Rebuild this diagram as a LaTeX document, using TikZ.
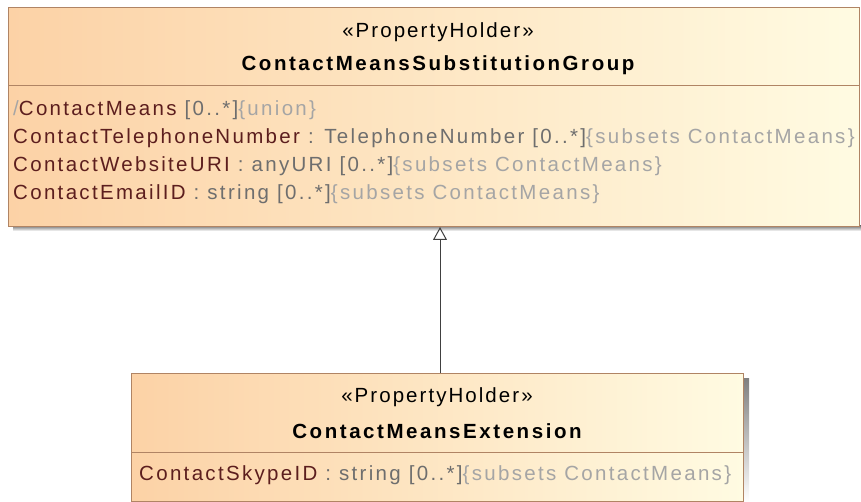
\documentclass[tikz,border=0pt]{standalone}
\usepackage{fontspec}
\setmainfont{Liberation Sans}
\newfontfamily\umlfont[LetterSpace=10]{Liberation Sans}
\newfontfamily\umlafont[LetterSpace=11.3]{Liberation Sans}
\newfontfamily\umlbfont[LetterSpace=12.5]{Liberation Sans}
\usetikzlibrary{arrows.meta}
\definecolor{peach}{RGB}{252,210,166}
\definecolor{pale}{RGB}{255,251,226}
\definecolor{edge}{RGB}{176,132,100}
\definecolor{nm}{RGB}{92,30,30}
\definecolor{ty}{RGB}{110,110,110}
\definecolor{cs}{RGB}{165,165,165}
\definecolor{shade}{RGB}{190,190,190}
\tikzset{
  x=1pt, y=-1pt,
  classbox/.style={draw=edge, line width=1pt, left color=peach, right color=pale, shading angle=90},
  sep/.style={draw=edge, line width=1pt},
  txt/.style={inner sep=0pt, font=\umlfont\fontsize{20.5}{23}\selectfont},
  attr/.style={txt, anchor=base west, text=nm, font=\umlafont\fontsize{20.5}{23}\selectfont},
  head/.style={txt, anchor=base, text=black},
  title/.style={head, font=\umlbfont\fontsize{20.5}{23}\selectfont\bfseries},
  gen/.style={draw=black!75, line width=1pt, -{Triangle[open, length=13pt, width=14pt]}},
}
\newcommand{\tyPart}[1]{\textcolor{ty}{#1}}
\newcommand{\csPart}[1]{\textcolor{cs}{#1}}
\begin{document}
\begin{tikzpicture}
\useasboundingbox (0,0) rectangle (861,502);
% shadows
\fill[shade] (13,226) rectangle (861,231);
\fill[shade] (743,378) rectangle (749,502);
% top class
\node[classbox, minimum width=851pt, minimum height=219pt, inner sep=0pt, anchor=north west] (grp) at (8,7) {};
\draw[sep] (8,86) -- (859,86);
\node[head] (grpst) at (438,38) {«PropertyHolder»};
\node[title] (grpnm) at (438,71) {ContactMeansSubstitutionGroup};
\node[attr] (a1) at (13,116) {\csPart{/}ContactMeans \tyPart{[0..*]}\csPart{\{union\}}};
\node[attr] (a2) at (13,144) {ContactTelephoneNumber \tyPart{: TelephoneNumber [0..*]}\csPart{\{subsets ContactMeans\}}};
\node[attr] (a3) at (13,172) {ContactWebsiteURI \tyPart{: anyURI [0..*]}\csPart{\{subsets ContactMeans\}}};
\node[attr] (a4) at (13,200) {ContactEmailID \tyPart{: string [0..*]}\csPart{\{subsets ContactMeans\}}};
% bottom class
\node[classbox, minimum width=612pt, minimum height=128pt, inner sep=0pt, anchor=north west] (ext) at (131,373) {};
\draw[sep] (131,452) -- (743,452);
\node[head] (extst) at (437,402) {«PropertyHolder»};
\node[title] (extnm) at (437,438) {ContactMeansExtension};
\node[attr] (b1) at (139,480) {ContactSkypeID \tyPart{: string [0..*]}\csPart{\{subsets ContactMeans\}}};
% generalization
\coordinate (ax) at (440,0);
\draw[gen] (ext.north -| ax) -- (grp.south -| ax);
\end{tikzpicture}
\end{document}
